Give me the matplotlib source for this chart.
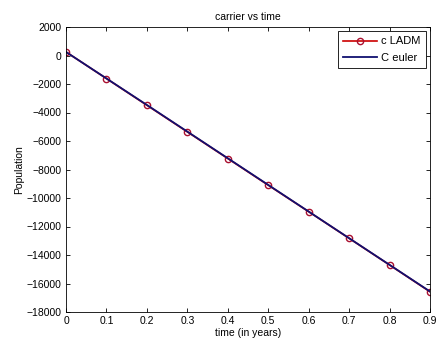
import matplotlib
matplotlib.use("Agg")
import matplotlib.pyplot as plt
import numpy as np

plt.rcParams['font.family'] = ['Liberation Sans', 'DejaVu Sans']

t = [0, 0.1, 0.2, 0.3, 0.4, 0.5, 0.6, 0.7, 0.8, 0.9]
c_ladm = [250, -1620, -3490, -5360, -7230, -9100, -10960, -12830, -14700, -16580]
c_euler = [250, -1610, -3470, -5340, -7210, -9080, -10950, -12820, -14690, -16560]

fig = plt.figure(figsize=(4.4, 3.46), dpi=100)
ax = fig.add_axes([66/440, 1 - 312/346, (430-66)/440, (312-27)/346])

ax.plot(t, c_ladm, color='#cc0000', marker='o', markersize=4.5, markerfacecolor='none',
        markeredgecolor='#aa1030', markeredgewidth=1.0, linewidth=1.2, label='c LADM')
ax.plot(t, c_euler, color='#101070', linewidth=1.3, label='C euler')

ax.set_xlim(0, 0.9)
ax.set_ylim(-18000, 2000)
ax.set_xticks(np.arange(0, 0.91, 0.1))
ax.set_xticklabels(['0', '0.1', '0.2', '0.3', '0.4', '0.5', '0.6', '0.7', '0.8', '0.9'])
ax.set_yticks(np.arange(-18000, 2001, 2000))
ax.tick_params(direction='in', top=True, right=True, labelsize=7.5, length=3, width=0.6, pad=3)
for s in ax.spines.values():
    s.set_linewidth(0.6)

ax.set_title('carrier vs time', fontsize=7.5, pad=5)
ax.set_xlabel('time (in years)', fontsize=7.5, labelpad=1)
ax.set_ylabel('Population', fontsize=7.5, labelpad=2)

leg = ax.legend(loc='upper right', fontsize=8, fancybox=False, framealpha=1,
                edgecolor='black', borderpad=0.45, handlelength=3.0, handletextpad=0.4,
                labelspacing=0.6, borderaxespad=0.4)
leg.get_frame().set_linewidth(0.6)

fig.savefig('out.png', dpi=100)
